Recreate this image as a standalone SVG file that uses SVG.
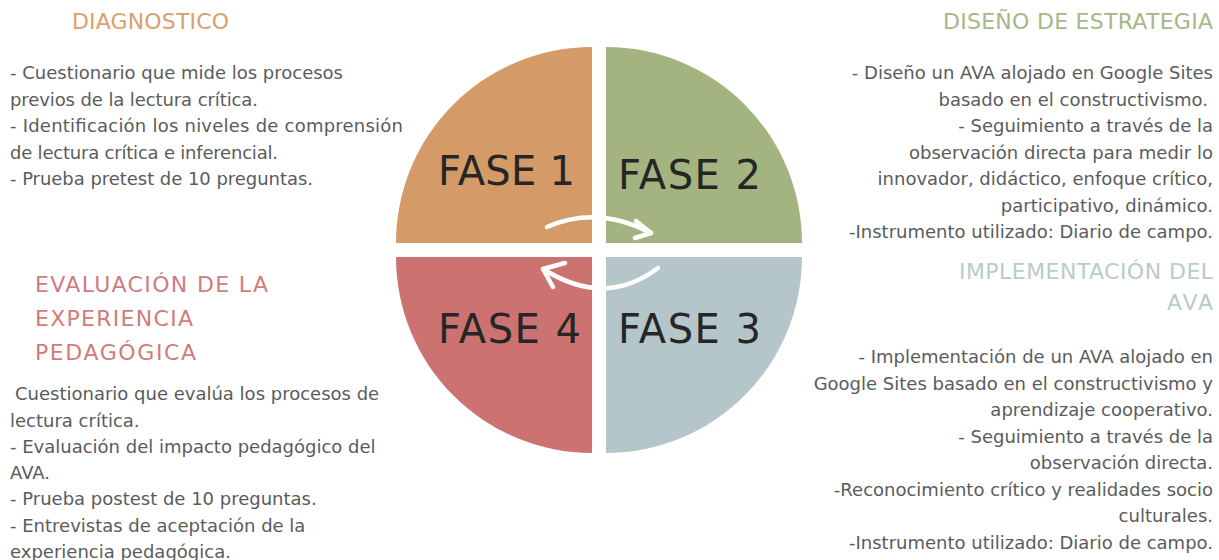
<svg xmlns="http://www.w3.org/2000/svg" width="1219" height="560" viewBox="0 0 1219 560">
<style>
.body{font-family:"DejaVu Sans","Liberation Sans",sans-serif;font-size:18px;fill:#5b5b5b}
.r{text-anchor:end}
.h{font-family:"DejaVu Sans","Liberation Sans",sans-serif;font-size:22px}
.fase{font-family:"DejaVu Sans","Liberation Sans",sans-serif;font-size:40px;fill:#262626}
.arrow{fill:none;stroke:#ffffff;stroke-width:4.5;stroke-linecap:round;stroke-linejoin:round}
</style>
<rect width="1219" height="560" fill="#ffffff"/>
<g id="fase1">
<path d="M592,243 L396,243 A196,196 0 0 1 592,47 Z" fill="#D49A67"/>
<text class="fase" x="438" y="185" textLength="137">FASE 1</text>
</g>
<g id="fase2">
<path d="M606,243 L606,47 A196,196 0 0 1 802,243 Z" fill="#A3B480"/>
<text class="fase" x="618" y="189" textLength="143">FASE 2</text>
</g>
<g id="fase3">
<path d="M606,257 L802,257 A196,196 0 0 1 606,453 Z" fill="#B4C6CA"/>
<text class="fase" x="618" y="343" textLength="143">FASE 3</text>
</g>
<g id="fase4">
<path d="M592,257 L592,453 A196,196 0 0 1 396,257 Z" fill="#CC7271"/>
<text class="fase" x="438" y="343" textLength="143">FASE 4</text>
</g>
<g id="connectors">
<path class="arrow" d="M547,227 Q598,205 651,233"/>
<path class="arrow" d="M636,221 L651,233 L635,238"/>
<path class="arrow" d="M658,268 Q605,308 543,269"/>
<path class="arrow" d="M565,263 L543,269 L553,287"/>
</g>
<g id="diagnostico">
<text class="h" x="72" y="29" fill="#D9A06E" textLength="157">DIAGNOSTICO</text>
<text class="body" x="10" y="79" textLength="333">- Cuestionario que mide los procesos</text>
<text class="body" x="10" y="106" textLength="248">previos de la lectura crítica.</text>
<text class="body" x="10" y="132" textLength="393">- Identificación los niveles de comprensión</text>
<text class="body" x="10" y="159" textLength="268">de lectura crítica e inferencial.</text>
<text class="body" x="10" y="185" textLength="303">- Prueba pretest de 10 preguntas.</text>
</g>
<g id="diseno">
<text class="h r" x="1213" y="29" fill="#A5B888" textLength="270">DISEÑO DE ESTRATEGIA</text>
<text class="body r" x="1213" y="79">- Diseño un AVA alojado en Google Sites</text>
<text class="body r" x="1208" y="106">basado en el constructivismo.</text>
<text class="body r" x="1213" y="132">- Seguimiento a través de la</text>
<text class="body r" x="1213" y="159">observación directa para medir lo</text>
<text class="body r" x="1213" y="185">innovador, didáctico, enfoque crítico,</text>
<text class="body r" x="1213" y="212">participativo, dinámico.</text>
<text class="body r" x="1213" y="238">-Instrumento utilizado: Diario de campo.</text>
</g>
<g id="implementacion">
<text class="h r" x="1213" y="279" fill="#B8CBCD" textLength="254">IMPLEMENTACIÓN DEL</text>
<text class="h r" x="1213" y="310" fill="#B8CBCD" textLength="46">AVA</text>
<text class="body r" x="1213" y="363">- Implementación de un AVA alojado en</text>
<text class="body r" x="1213" y="390">Google Sites basado en el constructivismo y</text>
<text class="body r" x="1213" y="416">aprendizaje cooperativo.</text>
<text class="body r" x="1213" y="443">- Seguimiento a través de la</text>
<text class="body r" x="1213" y="469">observación directa.</text>
<text class="body r" x="1213" y="496">-Reconocimiento crítico y realidades socio</text>
<text class="body r" x="1213" y="522">culturales.</text>
<text class="body r" x="1213" y="549">-Instrumento utilizado: Diario de campo.</text>
</g>
<g id="evaluacion">
<text class="h" x="35" y="292" fill="#D07C7C" font-size="23" textLength="233">EVALUACIÓN DE LA</text>
<text class="h" x="35" y="326" fill="#D07C7C" font-size="23" textLength="158">EXPERIENCIA</text>
<text class="h" x="35" y="360" fill="#D07C7C" font-size="23" textLength="161">PEDAGÓGICA</text>
<text class="body" x="15" y="400"> Cuestionario que evalúa los procesos de</text>
<text class="body" x="10" y="427">lectura crítica.</text>
<text class="body" x="10" y="453">- Evaluación del impacto pedagógico del</text>
<text class="body" x="10" y="479">AVA.</text>
<text class="body" x="10" y="505">- Prueba postest de 10 preguntas.</text>
<text class="body" x="10" y="532">- Entrevistas de aceptación de la</text>
<text class="body" x="10" y="558">experiencia pedagógica.</text>
</g>
</svg>
